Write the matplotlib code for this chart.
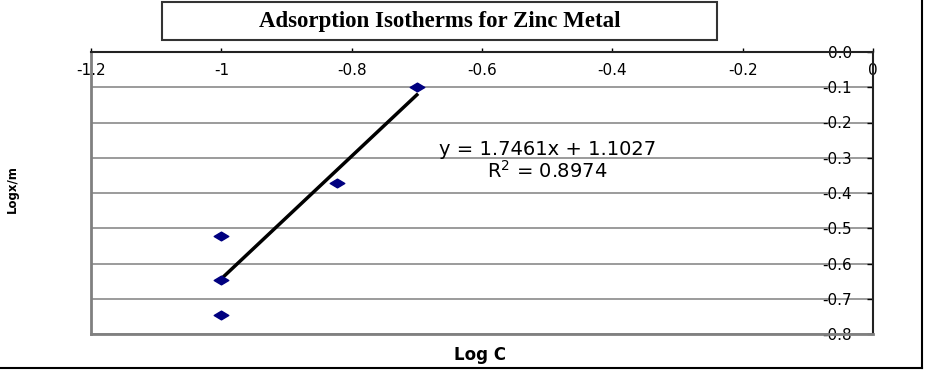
import numpy as np
import matplotlib
matplotlib.use("Agg")
import matplotlib.pyplot as plt
from matplotlib.path import Path
from matplotlib.patches import Rectangle
from matplotlib.lines import Line2D

# data
log_c = [-0.70, -0.823, -1.0, -1.0, -1.0]
log_xm = [-0.10, -0.372, -0.522, -0.647, -0.746]
x_ticks = [-1.2, -1.0, -0.8, -0.6, -0.4, -0.2, 0.0]
x_labels = ["-1.2", "-1", "-0.8", "-0.6", "-0.4", "-0.2", "0"]
y_ticks = [0.0, -0.1, -0.2, -0.3, -0.4, -0.5, -0.6, -0.7, -0.8]
y_labels = ["0.0", "-0.1", "-0.2", "-0.3", "-0.4", "-0.5", "-0.6", "-0.7", "-0.8"]
title = "Adsorption Isotherms for Zinc Metal"
eq_text = "y = 1.7461x + 1.1027\nR$^2$ = 0.8974"

plt.rcParams["font.family"] = ["DejaVu Sans"]

fig = plt.figure(figsize=(9.26, 3.7), dpi=100)
ax = fig.add_axes([91 / 926, 1 - 334 / 370, (873 - 91) / 926, (334 - 52) / 370])

diamond = Path([(-1, 0), (0, 0.6), (1, 0), (0, -0.6), (-1, 0)],
               [Path.MOVETO, Path.LINETO, Path.LINETO, Path.LINETO, Path.CLOSEPOLY])

# trendline
slope, icpt = np.polyfit(log_c, log_xm, 1)
xs = np.array([min(log_c), max(log_c)])
ax.plot(xs, slope * xs + icpt, color="black", lw=2.5, zorder=3)
ax.plot(log_c, log_xm, ls="none", marker=diamond, ms=10.5, color="#000080",
        mec="#000080", zorder=4)

ax.set_xlim(-1.2, 0)
ax.set_ylim(-0.8, 0)

ax.set_yticks(y_ticks, y_labels)
ax.set_xticks(x_ticks, x_labels)
ax.grid(axis="y", color="#8a8a8a", lw=1.2)
ax.set_axisbelow(True)

ax.xaxis.set_ticks_position("top")
ax.tick_params(axis="x", direction="out", length=3, width=1, top=True, bottom=False,
               labeltop=True, labelbottom=False, pad=-22, labelsize=11)
ax.yaxis.set_ticks_position("right")
ax.tick_params(axis="y", direction="in", length=4, width=1, right=True, left=False,
               labelright=True, labelleft=False, pad=-15, labelsize=11)
for lab in ax.get_yticklabels():
    lab.set_ha("right")

for side in ["top", "right"]:
    ax.spines[side].set_color("#222222")
    ax.spines[side].set_linewidth(1.5)
for side in ["left", "bottom"]:
    ax.spines[side].set_color("#808080")
    ax.spines[side].set_linewidth(2)

ax.text(-0.50, -0.31, eq_text, ha="center", va="center", fontsize=14,
        linespacing=1.05)

fig.text(480 / 926, 1 - 355 / 370, "Log C", ha="center", va="center",
         fontsize=12, fontweight="bold")
fig.text(12 / 926, 1 - 189 / 370, "Logx/m", ha="center", va="center",
         fontsize=8.5, fontweight="bold", rotation=90)

# title box
fig.add_artist(Rectangle((162 / 926, 1 - 40 / 370), (717 - 162) / 926, 38 / 370,
                         transform=fig.transFigure, fill=False,
                         edgecolor="#333333", lw=1.5))
fig.text(440 / 926, 1 - 21 / 370, title, ha="center", va="center",
         fontsize=16.5, fontweight="bold", family="Liberation Serif")

# outer frame (right and bottom)
fig.add_artist(Line2D([922 / 926, 922 / 926], [1 - 368 / 370, 1], color="black", lw=1.5,
                      transform=fig.transFigure))
fig.add_artist(Line2D([0, 922 / 926], [1 - 368 / 370, 1 - 368 / 370], color="black", lw=1.5,
                      transform=fig.transFigure))

fig.savefig("out.png", dpi=100)
